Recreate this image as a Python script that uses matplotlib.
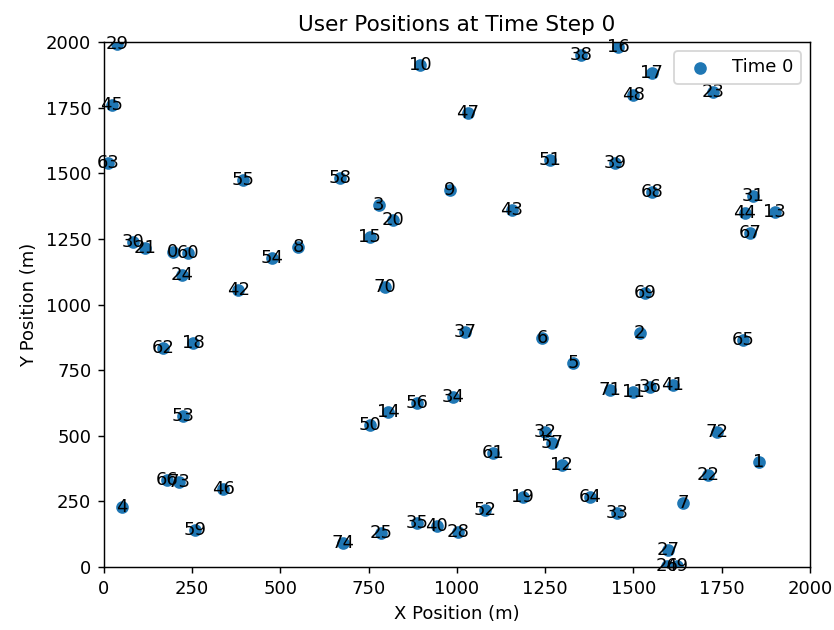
import matplotlib
matplotlib.use('Agg')
import matplotlib.pyplot as plt

# user positions at time step 0 (index = user id)
x_pos = [195, 1856, 1518, 779, 50, 1329, 1241, 1640, 550, 980,
         895, 1499, 1297, 1901, 805, 753, 1457, 1552, 252, 1187,
         819, 116, 1711, 1725, 221, 785, 1595, 1598, 1003, 36,
         82, 1840, 1249, 1453, 989, 887, 1547, 1023, 1353, 1448,
         943, 1612, 380, 1156, 1816, 22, 338, 1031, 1499, 1623,
         753, 1263, 1079, 224, 476, 394, 887, 1269, 669, 258,
         238, 1103, 167, 12, 1377, 1810, 178, 1830, 1552, 1533,
         796, 1433, 1736, 213, 677]
y_pos = [1200, 400, 891, 1379, 229, 777, 872, 243, 1219, 1436,
         1912, 667, 389, 1352, 590, 1257, 1981, 1882, 853, 267,
         1322, 1215, 350, 1810, 1112, 128, 5, 65, 134, 1992,
         1238, 1415, 514, 206, 648, 168, 686, 895, 1950, 1539,
         156, 693, 1055, 1360, 1349, 1760, 297, 1730, 1798, 5,
         541, 1550, 217, 575, 1177, 1474, 625, 472, 1482, 141,
         1196, 434, 834, 1539, 267, 865, 331, 1272, 1429, 1044,
         1067, 674, 515, 324, 91]
user_ids = list(range(len(x_pos)))

fig = plt.figure(figsize=(834 / 130, 630 / 130), dpi=130)
ax = fig.add_subplot(111)
fig.subplots_adjust(left=0.1247, right=0.971, bottom=0.1, top=0.933)

ax.scatter(x_pos, y_pos, label="Time 0")
for i, (x, y) in enumerate(zip(x_pos, y_pos)):
    ax.text(x, y, str(user_ids[i]), ha="center", va="center", fontsize=10)

ax.set_xlim(0, 2000)
ax.set_ylim(0, 2000)
ax.set_xticks(range(0, 2001, 250))
ax.set_yticks(range(0, 2001, 250))
ax.set_title("User Positions at Time Step 0")
ax.set_xlabel("X Position (m)")
ax.set_ylabel("Y Position (m)")
leg = ax.legend(loc="upper right")
leg.set_zorder(5)

fig.savefig("out.png", dpi=130)
plt.close(fig)
